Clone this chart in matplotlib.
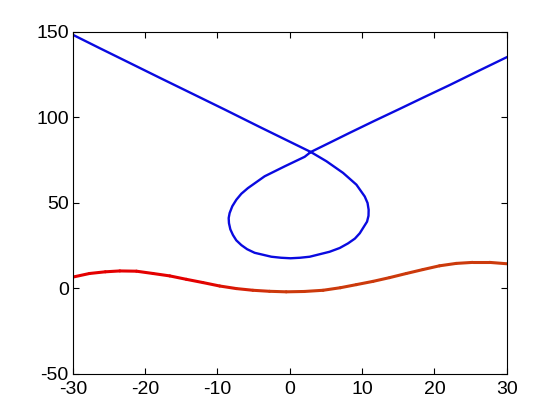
import numpy as np
import matplotlib
matplotlib.use("Agg")
import matplotlib.pyplot as plt
from matplotlib.collections import LineCollection
from matplotlib.colors import LinearSegmentedColormap

# Blue parametric curve, in drawing order
blue_x = [-30.0, -26.3, -22.6, -18.0, -13.4, -9.0, -4.2, 0.0, 2.9, 5.06, 7.36,
          9.21, 10.36, 10.75, 10.9, 10.88, 10.68, 9.67, 9.0, 8.05, 6.9, 5.5,
          2.75, 1.4, 0.1, -1.2, -2.55, -4.86, -5.9, -6.70, -7.4, -7.86, -8.22,
          -8.41, -8.45, -8.32, -7.95, -7.39, -6.7, -5.79, -3.48, -0.71, 2.06,
          2.9, 5.6, 8.28, 11.7, 15.2, 18.6, 22.1, 26.0, 30.0]
blue_y = [148.1, 140.3, 132.6, 123.0, 113.5, 104.4, 94.3, 85.6, 79.6, 74.2, 67.4,
          60.5, 53.6, 49.8, 45.8, 42.3, 38.9, 32.1, 29.0, 26.2, 23.5, 21.3,
          18.4, 17.8, 17.5, 17.8, 18.4, 20.7, 22.8, 25.2, 28.0, 31.1, 34.4,
          38.0, 41.0, 43.9, 47.9, 51.7, 55.2, 58.5, 65.4, 71.2, 76.8,
          79.6, 85.2, 90.8, 97.8, 104.8, 111.7, 118.7, 126.8, 135.0]

# Red wave curve
red_x = [-30.0, -27.7, -25.5, -23.5, -21.2, -18.9, -16.6, -14.3, -12.0, -9.7,
         -7.4, -5.1, -2.8, -0.5, 2.0, 4.6, 7.0, 9.2, 11.5, 13.8, 16.1, 18.4,
         20.7, 23.0, 25.3, 27.6, 30.0]
red_y = [6.5, 8.6, 9.6, 10.1, 9.95, 8.6, 7.2, 5.2, 3.3, 1.3,
         -0.2, -1.2, -1.8, -2.1, -1.9, -1.2, 0.3, 2.1, 4.0, 6.2, 8.6, 10.9,
         13.1, 14.5, 15.1, 15.1, 14.3]

xticks = [-30, -20, -10, 0, 10, 20, 30]
yticks = [-50, 0, 50, 100, 150]

plt.rcParams['font.family'] = ['Liberation Sans', 'DejaVu Sans']

fig = plt.figure(figsize=(5.6, 4.2), dpi=100)
ax = fig.add_axes([0.13, 0.11, 0.775, 0.815])

ax.plot(blue_x, blue_y, color='#0a0ae0', linewidth=1.7, solid_joinstyle='round')

pts = np.column_stack([red_x, red_y]).reshape(-1, 1, 2)
segs = np.concatenate([pts[:-1], pts[1:]], axis=1)
cmap = LinearSegmentedColormap.from_list('ro', ['#e40000', '#e40000', '#cc3a0c', '#cc3a0c'])
mids = (np.array(red_x[:-1]) + np.array(red_x[1:])) / 2
t = np.clip((mids + 12) / 10, 0, 1) * 0.34 + 0.33
lc = LineCollection(segs, colors=cmap(t), linewidths=2.2, capstyle='round', joinstyle='round')
ax.add_collection(lc)

ax.set_xlim(-30, 30)
ax.set_ylim(-50, 150)
ax.set_xticks(xticks)
ax.set_yticks(yticks)
ax.set_xticklabels([str(v) for v in xticks])
ax.set_yticklabels([str(v) for v in yticks])
ax.tick_params(direction='in', top=True, right=True, length=4.5, width=0.8,
               labelsize=14, colors='black')
ax.tick_params(axis='x', pad=5)
ax.tick_params(axis='y', pad=3)
for s in ax.spines.values():
    s.set_linewidth(0.8)
    s.set_color('black')

fig.savefig('out.png', dpi=100, facecolor='white')
